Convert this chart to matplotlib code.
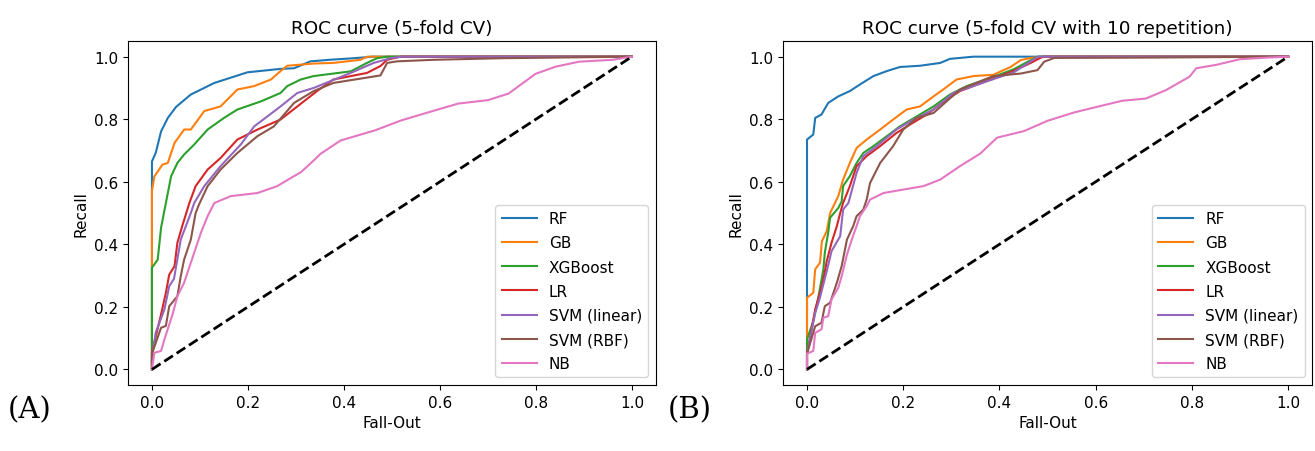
import matplotlib
matplotlib.use("Agg")
import matplotlib.pyplot as plt

plt.rcParams['font.size'] = 11

labels = ['RF', 'GB', 'XGBoost', 'LR', 'SVM (linear)', 'SVM (RBF)', 'NB']
titles = ['ROC curve (5-fold CV)', 'ROC curve (5-fold CV with 10 repetition)']
panel_tags = ['(A)', '(B)']

# ---- panel A : 5-fold CV ----
rf_fpr_a = [0, 0, 0.008, 0.019, 0.033, 0.05, 0.081, 0.13, 0.199, 0.268, 0.296, 0.33, 0.37, 0.42, 0.46, 1.0]
rf_tpr_a = [0, 0.665, 0.693, 0.761, 0.804, 0.839, 0.879, 0.916, 0.95, 0.961, 0.963, 0.985, 0.99, 0.995, 1.0, 1.0]

gb_fpr_a = [0, 0, 0.005, 0.022, 0.033, 0.047, 0.067, 0.081, 0.109, 0.143, 0.178, 0.213, 0.248, 0.268, 0.282, 0.337, 0.378, 0.434, 0.449, 1.0]
gb_tpr_a = [0, 0.57, 0.617, 0.655, 0.66, 0.724, 0.767, 0.767, 0.826, 0.841, 0.895, 0.906, 0.927, 0.954, 0.971, 0.978, 0.98, 0.99, 1.0, 1.0]

xgb_fpr_a = [0, 0, 0.012, 0.019, 0.029, 0.04, 0.053, 0.067, 0.088, 0.116, 0.15, 0.178, 0.227, 0.268, 0.282, 0.31, 0.337, 0.414, 0.448, 0.469, 0.49, 1.0]
xgb_tpr_a = [0, 0.325, 0.351, 0.453, 0.532, 0.618, 0.66, 0.687, 0.719, 0.767, 0.804, 0.831, 0.857, 0.884, 0.906, 0.927, 0.938, 0.953, 0.98, 0.995, 1.0, 1.0]

lr_fpr_a = [0, 0, 0.019, 0.029, 0.036, 0.047, 0.053, 0.064, 0.078, 0.091, 0.116, 0.143, 0.178, 0.22, 0.268, 0.303, 0.344, 0.378, 0.448, 0.476, 0.49, 0.518, 1.0]
lr_tpr_a = [0, 0.053, 0.176, 0.245, 0.303, 0.33, 0.405, 0.463, 0.532, 0.586, 0.639, 0.676, 0.735, 0.767, 0.799, 0.841, 0.89, 0.927, 0.948, 0.97, 0.99, 1.0, 1.0]

svl_fpr_a = [0, 0, 0.008, 0.026, 0.036, 0.046, 0.06, 0.081, 0.088, 0.109, 0.143, 0.185, 0.213, 0.268, 0.303, 0.337, 0.414, 0.462, 0.497, 0.52, 1.0]
svl_tpr_a = [0, 0.04, 0.118, 0.192, 0.266, 0.29, 0.415, 0.5, 0.532, 0.586, 0.65, 0.719, 0.777, 0.841, 0.884, 0.9, 0.948, 0.98, 0.995, 1.0, 1.0]

svr_fpr_a = [0, 0, 0.019, 0.029, 0.036, 0.053, 0.06, 0.067, 0.081, 0.091, 0.098, 0.116, 0.143, 0.178, 0.22, 0.254, 0.296, 0.337, 0.378, 0.476, 0.49, 0.51, 0.587, 0.726, 1.0]
svr_tpr_a = [0, 0.05, 0.133, 0.139, 0.202, 0.234, 0.298, 0.351, 0.415, 0.5, 0.527, 0.586, 0.639, 0.692, 0.746, 0.777, 0.852, 0.89, 0.916, 0.94, 0.98, 0.985, 0.99, 0.995, 1.0]

nb_fpr_a = [0, 0.005, 0.019, 0.026, 0.043, 0.053, 0.067, 0.081, 0.102, 0.116, 0.13, 0.164, 0.22, 0.261, 0.296, 0.31, 0.337, 0.351, 0.393, 0.464, 0.519, 0.589, 0.638, 0.70, 0.743, 0.799, 0.841, 0.89, 0.96, 1.0]
nb_tpr_a = [0, 0.053, 0.059, 0.096, 0.176, 0.234, 0.277, 0.341, 0.437, 0.49, 0.532, 0.554, 0.564, 0.586, 0.618, 0.63, 0.668, 0.689, 0.732, 0.764, 0.796, 0.828, 0.85, 0.861, 0.882, 0.945, 0.968, 0.984, 0.99, 1.0]

# ---- panel B : 5-fold CV with 10 repetition ----
rf_fpr_b = [0, 0, 0.013, 0.017, 0.03, 0.044, 0.065, 0.089, 0.11, 0.138, 0.166, 0.193, 0.235, 0.277, 0.297, 0.346, 1.0]
rf_tpr_b = [0, 0.735, 0.751, 0.804, 0.815, 0.852, 0.873, 0.89, 0.911, 0.938, 0.954, 0.967, 0.971, 0.98, 0.993, 1.0, 1.0]

gb_fpr_b = [0, 0, 0.013, 0.017, 0.027, 0.031, 0.041, 0.048, 0.058, 0.065, 0.075, 0.089, 0.103, 0.124, 0.152, 0.179, 0.207, 0.235, 0.263, 0.283, 0.311, 0.346, 0.387, 0.423, 0.444, 0.465, 0.5, 1.0]
gb_tpr_b = [0, 0.229, 0.245, 0.32, 0.341, 0.41, 0.442, 0.5, 0.532, 0.554, 0.607, 0.66, 0.708, 0.735, 0.767, 0.799, 0.831, 0.841, 0.873, 0.895, 0.927, 0.938, 0.942, 0.967, 0.989, 0.996, 1.0, 1.0]

xgb_fpr_b = [0, 0, 0.013, 0.024, 0.034, 0.037, 0.044, 0.048, 0.065, 0.072, 0.075, 0.089, 0.103, 0.117, 0.138, 0.166, 0.193, 0.228, 0.263, 0.297, 0.332, 0.387, 0.43, 0.46, 0.48, 1.0]
xgb_tpr_b = [0, 0.096, 0.154, 0.234, 0.32, 0.373, 0.437, 0.485, 0.516, 0.537, 0.586, 0.618, 0.66, 0.692, 0.714, 0.746, 0.777, 0.809, 0.841, 0.879, 0.906, 0.935, 0.96, 0.985, 1.0, 1.0]

lr_fpr_b = [0, 0, 0.017, 0.027, 0.034, 0.041, 0.051, 0.062, 0.069, 0.075, 0.089, 0.103, 0.124, 0.152, 0.186, 0.214, 0.249, 0.29, 0.318, 0.387, 0.43, 0.465, 0.49, 1.0]
lr_tpr_b = [0, 0.05, 0.192, 0.245, 0.288, 0.346, 0.405, 0.458, 0.5, 0.532, 0.586, 0.65, 0.682, 0.714, 0.756, 0.783, 0.815, 0.863, 0.89, 0.93, 0.955, 0.98, 1.0, 1.0]

svl_fpr_b = [0, 0, 0.017, 0.027, 0.041, 0.051, 0.069, 0.075, 0.086, 0.103, 0.117, 0.145, 0.186, 0.221, 0.263, 0.304, 0.387, 0.43, 0.46, 0.48, 1.0]
svl_tpr_b = [0, 0.05, 0.18, 0.23, 0.314, 0.378, 0.426, 0.511, 0.532, 0.628, 0.682, 0.714, 0.767, 0.799, 0.831, 0.884, 0.928, 0.95, 0.98, 1.0, 1.0]

svr_fpr_b = [0, 0, 0.017, 0.03, 0.037, 0.048, 0.062, 0.072, 0.083, 0.096, 0.103, 0.117, 0.124, 0.131, 0.152, 0.179, 0.2, 0.228, 0.263, 0.29, 0.318, 0.387, 0.444, 0.479, 0.493, 0.514, 0.7, 1.0]
svr_tpr_b = [0, 0.05, 0.138, 0.149, 0.202, 0.213, 0.277, 0.33, 0.415, 0.458, 0.49, 0.511, 0.543, 0.596, 0.66, 0.714, 0.767, 0.804, 0.82, 0.857, 0.895, 0.938, 0.946, 0.957, 0.984, 0.996, 0.997, 1.0]

nb_fpr_b = [0, 0, 0.013, 0.017, 0.03, 0.034, 0.044, 0.051, 0.065, 0.072, 0.083, 0.093, 0.103, 0.11, 0.124, 0.131, 0.159, 0.2, 0.242, 0.277, 0.318, 0.36, 0.395, 0.451, 0.5, 0.556, 0.612, 0.655, 0.704, 0.746, 0.795, 0.809, 0.851, 0.9, 0.957, 1.0]
nb_tpr_b = [0, 0.05, 0.059, 0.117, 0.128, 0.165, 0.17, 0.224, 0.261, 0.298, 0.367, 0.415, 0.458, 0.49, 0.522, 0.543, 0.564, 0.575, 0.586, 0.607, 0.65, 0.69, 0.741, 0.762, 0.795, 0.822, 0.843, 0.859, 0.866, 0.893, 0.936, 0.963, 0.974, 0.992, 0.997, 1.0]

panel_a = [(rf_fpr_a, rf_tpr_a), (gb_fpr_a, gb_tpr_a), (xgb_fpr_a, xgb_tpr_a), (lr_fpr_a, lr_tpr_a),
           (svl_fpr_a, svl_tpr_a), (svr_fpr_a, svr_tpr_a), (nb_fpr_a, nb_tpr_a)]
panel_b = [(rf_fpr_b, rf_tpr_b), (gb_fpr_b, gb_tpr_b), (xgb_fpr_b, xgb_tpr_b), (lr_fpr_b, lr_tpr_b),
           (svl_fpr_b, svl_tpr_b), (svr_fpr_b, svr_tpr_b), (nb_fpr_b, nb_tpr_b)]

fig = plt.figure(figsize=(13.15, 4.52), dpi=100)
ax_a = fig.add_axes([0.0973, 0.146, 0.4015, 0.761])
ax_b = fig.add_axes([0.5954, 0.146, 0.4025, 0.761])

for ax, curves, title in zip([ax_a, ax_b], [panel_a, panel_b], titles):
    for (fpr, tpr), lab in zip(curves, labels):
        ax.plot(fpr, tpr, label=lab, linewidth=1.5)
    ax.plot([0, 1], [0, 1], 'k--', linewidth=2)
    ax.set_title(title, fontsize=13.2)
    ax.set_xlabel('Fall-Out')
    ax.set_ylabel('Recall')
    ax.legend(loc='lower right', labelspacing=0.6, handlelength=2.3)

fig.text(0.006, 0.093, panel_tags[0], family='DejaVu Serif', fontsize=21, va='center')
fig.text(0.508, 0.093, panel_tags[1], family='DejaVu Serif', fontsize=21, va='center')

fig.savefig('out.png', dpi=100)
